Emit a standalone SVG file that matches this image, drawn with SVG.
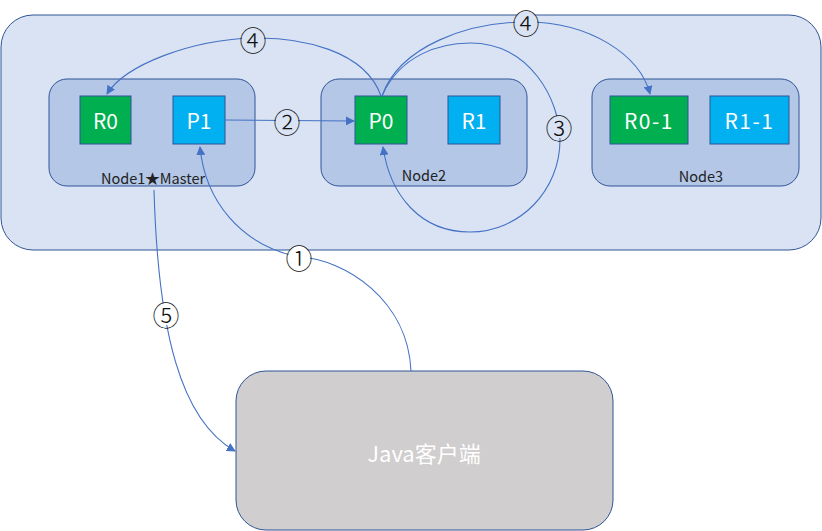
<svg xmlns="http://www.w3.org/2000/svg" width="822" height="531" viewBox="0 0 822 531">
<defs>
<marker id="arr" viewBox="0 0 10 10" refX="9" refY="5" markerWidth="9" markerHeight="9" markerUnits="userSpaceOnUse" orient="auto">
<path d="M0,0 L10,5 L0,10 z" fill="#4472c4"/>
</marker>
<style>
.node{fill:#b4c7e7;stroke:#2f5597;stroke-width:1}
.g{fill:#00b050;stroke:#2f5597;stroke-width:1}
.b{fill:#00b0f0;stroke:#2f5597;stroke-width:1}
.st{fill:#fff;font-family:"Noto Sans CJK SC","Noto Sans",sans-serif;font-size:21px;text-anchor:middle;dominant-baseline:central}
.nl{fill:#222;font-family:"Noto Sans CJK SC","Noto Sans",sans-serif;font-size:14.5px;text-anchor:middle;dominant-baseline:central}
.c{fill:none;stroke:#4472c4;stroke-width:1.1}
.lbl{fill:#111;font-family:"Noto Sans CJK SC",sans-serif;font-size:27px;font-weight:300;text-anchor:middle;dominant-baseline:central}
</style>
</defs>
<rect width="822" height="531" fill="#fff"/>
<g id="cluster">
<rect x="1" y="15" width="820" height="235" rx="32" fill="#dae3f3" stroke="#2f5597" stroke-width="1"/>
</g>
<g id="node1">
<rect class="node" x="49" y="79" width="206" height="107" rx="18"/>
<text class="nl" x="153" y="177">Node1★Master</text>
</g>
<g id="node2">
<rect class="node" x="321" y="79" width="206" height="107" rx="18"/>
<text class="nl" x="424" y="174">Node2</text>
</g>
<g id="node3">
<rect class="node" x="592" y="79" width="207" height="107" rx="18"/>
<text class="nl" x="701" y="175">Node3</text>
</g>
<g id="R0"><rect class="g" x="80" y="96" width="51" height="48"/><text class="st" x="105.5" y="120">R0</text></g>
<g id="P1"><rect class="b" x="173" y="96" width="52" height="48"/><text class="st" x="199" y="120">P1</text></g>
<g id="P0"><rect class="g" x="355" y="96" width="52" height="48"/><text class="st" x="381" y="120">P0</text></g>
<g id="R1"><rect class="b" x="448" y="96" width="52" height="48"/><text class="st" x="474" y="120">R1</text></g>
<g id="R0-1"><rect class="g" x="610" y="96" width="78" height="48"/><text class="st" x="649" y="120" letter-spacing="1.5">R0-1</text></g>
<g id="R1-1"><rect class="b" x="710" y="96" width="79" height="48"/><text class="st" x="749.5" y="120" letter-spacing="1.5">R1-1</text></g>
<g id="client">
<rect x="236" y="371" width="377" height="159" rx="30" fill="#d0cece" stroke="#2f5597" stroke-width="1"/>
<text class="st" x="424" y="452" style="font-size:22px">Java客户端</text>
</g>
<g id="connectors">
<path class="c" d="M411,371 C408,300 345,259 299,257 C240,245 205,200 200,147" marker-end="url(#arr)"/>
<path class="c" d="M225,120 L354,121" marker-end="url(#arr)"/>
<path class="c" d="M381,96 C365,50 300,37 253,38 C190,40 125,65 107,94" marker-end="url(#arr)"/>
<path class="c" d="M382,96 C400,45 470,22 526,22 C590,22 640,55 650,94" marker-end="url(#arr)"/>
<path class="c" d="M382,96 C400,55 440,43 470,43 C530,43 560,100 560,140 C560,190 520,232 470,232 C420,232 390,195 383,147" marker-end="url(#arr)"/>
<path class="c" d="M154,190 C158,330 180,420 235,451" marker-end="url(#arr)"/>
</g>
<g id="labels">
<circle cx="253" cy="39" r="11" fill="#dae3f3"/><text class="lbl" x="253" y="39">④</text>
<circle cx="526" cy="22" r="11" fill="#dae3f3"/><text class="lbl" x="526" y="22">④</text>
<circle cx="287" cy="121" r="11" fill="#dae3f3"/><text class="lbl" x="287" y="121">②</text>
<circle cx="559" cy="127" r="11" fill="#dae3f3"/><text class="lbl" x="559" y="127">③</text>
<circle cx="299" cy="257" r="11" fill="#fff"/><text class="lbl" x="299" y="257">①</text>
<circle cx="166" cy="314" r="11" fill="#fff"/><text class="lbl" x="166" y="314">⑤</text>
</g>
</svg>
